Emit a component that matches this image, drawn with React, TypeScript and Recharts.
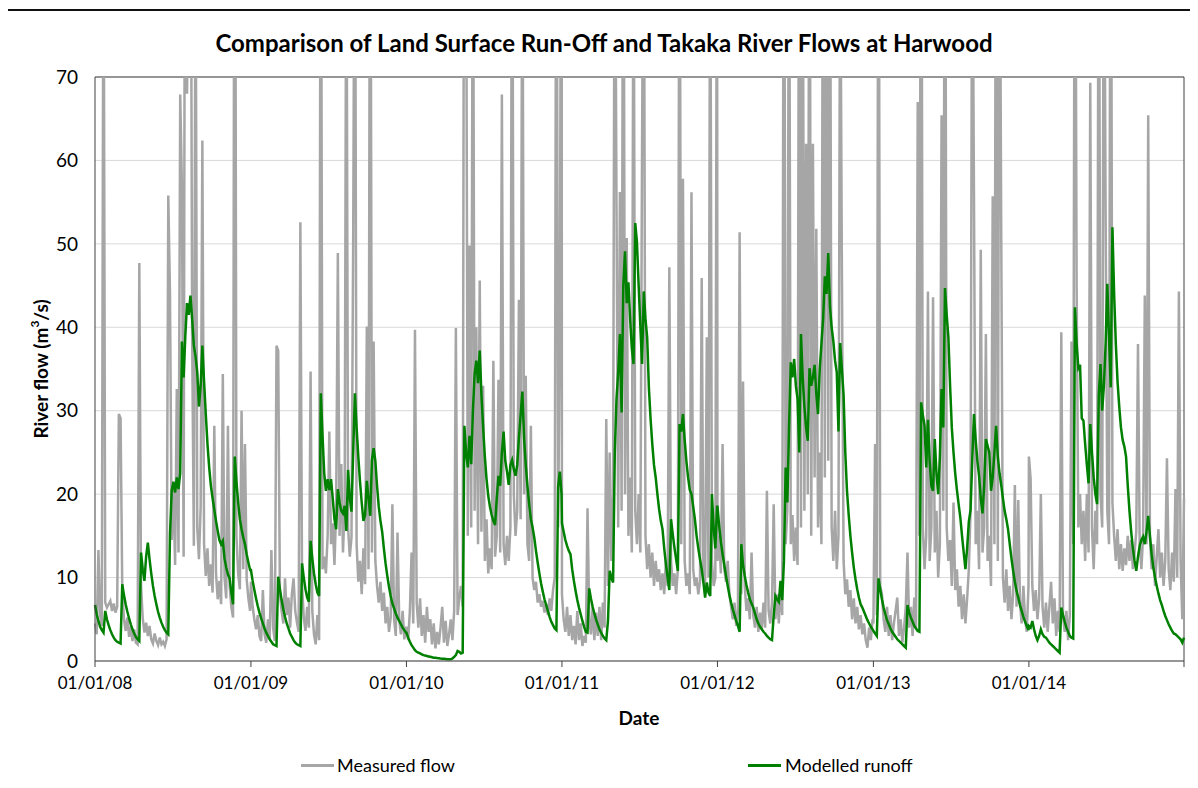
import { LineChart, Line, XAxis, YAxis, CartesianGrid, ReferenceLine } from 'recharts';

// start of each calendar year, in days from 01/01/08
const yearStarts = [0, 366, 731, 1096, 1461, 1827, 2192];
const tickLabels = ['01/01/08', '01/01/09', '01/01/10', '01/01/11', '01/01/12', '01/01/13', '01/01/14'];
const lastDay = 2556;
const sampleStep = 4; // days between readings

// measured flow (m3/s), one reading every 4 days from 1 January
const measured2008 = [
    4.5, 3.2, 13.3, 5.5, 4.2, 95, 7.0, 6.4, 6.8, 7.2,
    6.0, 6.9, 5.8, 6.5, 29.6, 29.1, 8.5, 5.0, 3.6, 5.2,
    2.9, 4.1, 2.4, 3.8, 2.2, 2.0, 47.7, 9.0, 5.1, 3.4,
    4.6, 3.0, 4.2, 2.6, 2.1, 3.3, 2.4, 1.9, 2.8, 2.0,
    2.3, 1.8, 2.6, 55.8, 44.0, 14.5, 21.0, 11.5, 32.6, 13.0,
    67.9, 56.9, 12.5, 120, 68.0, 85, 110, 39.0, 13.8, 90,
    16.0, 12.2, 18.5, 62.4, 14.0, 10.2, 13.5, 9.0, 11.6, 8.2,
    28.2, 10.5, 7.4, 9.6, 6.8, 34.4, 10.0, 7.5, 28.2, 9.0,
    6.5, 5.2, 130, 15.0, 10.5, 8.6, 30.0, 11.0, 26.0, 9.8,
    7.5, 6.0,
];
const measured2009 = [
    9.5, 6.5, 5.0, 3.8, 5.5, 3.0, 2.4, 8.5, 3.2, 2.2,
    5.0, 2.6, 13.3, 4.0, 2.4, 37.8, 37.2, 8.0, 6.0, 4.5,
    9.9, 5.5, 7.6, 4.0, 8.0, 9.9, 6.0, 4.6, 3.5, 52.6,
    9.0, 5.2, 3.6, 6.5, 4.0, 34.7, 6.0, 3.2, 2.0, 5.5,
    2.5, 110, 11.0, 12.5, 10.5, 15.0, 27.5, 14.0, 16.5, 11.5,
    18.0, 48.9, 15.0, 23.6, 13.0, 18.5, 95, 16.0, 12.5, 14.8,
    50.5, 105, 14.0, 9.5, 12.0, 8.0, 13.5, 9.2, 40.1, 11.0,
    115, 13.0, 38.3, 12.0, 9.0, 7.0, 9.5, 6.0, 8.2, 4.5,
    6.5, 3.5, 5.2, 18.8, 5.0, 3.0, 15.4, 5.0, 3.2, 6.0,
    2.6, 4.0,
];
const measured2010 = [
    4.0, 2.5, 6.0, 13.0, 4.5, 39.7, 7.0, 4.0, 7.5, 3.0,
    5.5, 2.2, 6.5, 3.5, 5.0, 2.0, 4.5, 1.5, 3.5, 2.0,
    4.0, 6.5, 2.2, 4.8, 1.8, 3.2, 5.0, 2.5, 6.0, 39.9,
    5.5, 7.5, 9.0, 6.5, 120, 90, 15.0, 49.8, 16.0, 100,
    18.0, 40.0, 14.0, 45.6, 15.5, 33.0, 12.0, 17.0, 10.5, 13.5,
    11.0, 36.0, 12.5, 15.0, 33.7, 13.0, 67.9, 14.0, 11.5, 15.0,
    12.0, 16.0, 105, 20.0, 15.0, 18.0, 43.3, 17.0, 95, 20.0,
    34.2, 14.0, 12.0, 28.2, 10.0, 8.5, 9.5, 7.0, 8.0, 6.5,
    7.2, 5.8, 6.8, 5.5, 7.5, 6.0, 8.5, 10.0, 110, 16.0,
    39.7, 120,
];
const measured2011 = [
    8.0, 5.0, 3.5, 6.5, 3.0, 5.5, 2.5, 4.2, 2.0, 6.0,
    2.5, 4.5, 1.8, 3.0, 2.2, 18.3, 5.0, 3.2, 6.5, 2.5,
    5.8, 3.0, 6.5, 2.5, 7.0, 4.0, 29.0, 9.0, 25.0, 12.0,
    20.0, 100, 54.8, 16.0, 56.2, 18.0, 110, 20.0, 50.7, 15.0,
    22.0, 13.0, 95, 18.0, 14.0, 20.0, 13.0, 61.5, 100, 15.0,
    11.0, 14.0, 10.0, 13.0, 9.0, 12.0, 9.5, 11.0, 8.5, 10.5,
    8.0, 12.0, 9.0, 47.2, 12.0, 9.0, 10.5, 8.0, 11.0, 105,
    14.0, 57.8, 12.0, 9.0, 10.5, 8.0, 56.2, 11.0, 9.0, 10.0,
    8.0, 9.5, 45.9, 10.0, 8.5, 38.8, 10.0, 95, 12.0, 9.0,
    10.0, 100,
];
const measured2012 = [
    12.0, 15.0, 10.5, 26.0, 11.0, 9.5, 12.0, 8.0, 6.5, 5.0,
    7.0, 4.2, 6.0, 51.4, 8.0, 33.5, 9.0, 6.0, 7.5, 5.0,
    13.0, 5.5, 4.0, 6.5, 3.5, 5.8, 3.8, 7.0, 4.0, 20.4,
    6.0, 4.5, 7.0, 18.8, 5.0, 8.0, 4.5, 9.0, 5.5, 115,
    14.0, 18.0, 100, 14.0, 17.5, 12.0, 16.0, 11.5, 110, 16.0,
    95, 18.0, 62.0, 20.0, 105, 15.0, 62.0, 22.0, 51.8, 16.0,
    25.0, 14.0, 110, 22.0, 120, 24.0, 100, 16.0, 12.0, 18.0,
    11.0, 15.0, 90, 47.2, 12.0, 8.0, 9.8, 6.5, 8.5, 5.0,
    7.5, 4.5, 6.5, 3.8, 5.5, 3.2, 4.5, 2.5, 1.6, 4.0,
    2.5, 5.0,
];
const measured2013 = [
    4.5, 26.0, 5.5, 110, 9.0, 8.0, 5.0, 3.5, 6.5, 3.0,
    5.5, 2.5, 4.5, 6.0, 7.6, 3.0, 5.0, 2.2, 4.0, 6.5,
    13.0, 4.0, 6.5, 3.0, 7.6, 4.0, 67.0, 15.0, 120, 16.0,
    11.0, 15.0, 44.3, 12.0, 16.0, 43.6, 13.0, 18.0, 10.0, 14.0,
    65.4, 18.0, 115, 16.0, 12.0, 14.5, 9.0, 19.0, 8.5, 11.0,
    6.5, 9.0, 5.0, 8.0, 4.5, 7.5, 11.0, 18.0, 95, 56.2,
    14.0, 18.0, 11.0, 49.3, 13.0, 16.0, 39.2, 12.0, 15.0, 9.0,
    55.7, 14.0, 110, 12.0, 100, 51.6, 10.0, 7.0, 11.0, 6.0,
    9.0, 5.0, 8.0, 21.1, 6.5, 19.3, 7.0, 4.5, 9.0, 5.0,
    3.5, 9.0,
];
const measured2014 = [
    24.5, 21.8, 9.0, 6.0, 8.5, 5.0, 7.5, 20.0, 6.5, 4.0,
    7.0, 3.5, 6.5, 9.5, 4.5, 7.5, 3.0, 6.0, 3.5, 39.4,
    5.5, 3.5, 6.0, 2.5, 5.5, 38.3, 14.0, 110, 44.7, 16.0,
    20.0, 14.0, 18.0, 12.0, 20.0, 13.0, 69.3, 16.0, 11.0, 18.0,
    14.0, 105, 20.0, 16.0, 100, 53.7, 18.0, 14.0, 115, 19.0,
    15.0, 12.0, 15.8, 11.0, 14.0, 10.8, 13.5, 11.5, 15.0, 12.0,
    14.5, 11.0, 13.0, 15.5, 38.0, 14.0, 11.0, 15.0, 43.8, 14.0,
    65.4, 15.0, 11.0, 14.0, 9.0, 12.5, 15.8, 10.0, 13.0, 9.0,
    12.0, 24.3, 11.0, 8.5, 13.0, 9.5, 20.6, 10.0, 44.3, 12.0,
    5.0, 19.5,
];

// modelled land surface runoff (m3/s), same dates
const modelled2008 = [
    6.7, 5.6, 4.8, 4.1, 3.7, 3.4, 6.0, 5.0, 4.3, 3.7,
    3.2, 2.8, 2.5, 2.3, 2.2, 2.1, 9.2, 7.9, 6.8, 5.9,
    5.1, 4.4, 3.8, 3.3, 2.9, 2.6, 2.4, 13.0, 11.0, 9.6,
    12.5, 14.2, 12.2, 10.5, 9.0, 7.8, 6.8, 5.9, 5.2, 4.6,
    4.1, 3.7, 3.4, 3.2, 15.1, 20.4, 21.5, 20.2, 22.0, 20.6,
    22.5, 38.3, 34.0, 39.0, 42.9, 41.5, 43.8, 41.0, 37.8, 36.5,
    34.6, 30.5, 33.0, 37.8, 33.5, 29.6, 26.0, 23.2, 21.0, 19.5,
    18.1, 16.8, 15.6, 14.5, 14.0, 14.4, 12.3, 11.2, 10.4, 9.9,
    8.2, 6.8, 24.5, 21.5, 19.0, 17.0, 15.8, 14.8, 14.0, 12.8,
    11.8, 10.9,
];
const modelled2009 = [
    10.9, 9.6, 8.5, 7.5, 6.6, 5.8, 5.1, 4.5, 3.9, 3.4,
    3.0, 2.6, 2.3, 2.0, 1.9, 1.8, 10.1, 8.6, 7.3, 6.2,
    5.3, 4.5, 3.9, 3.3, 2.9, 2.5, 2.2, 2.0, 1.9, 1.8,
    11.7, 10.0, 8.6, 7.6, 7.1, 14.4, 12.3, 10.5, 9.2, 8.2,
    7.8, 32.1, 27.0, 22.5, 20.4, 21.8, 20.5, 21.8, 19.5, 17.0,
    15.8, 20.6, 19.0, 18.0, 17.7, 18.6, 15.6, 22.9, 19.5, 17.9,
    25.0, 32.1, 28.0, 24.5, 21.5, 19.0, 16.8, 17.5, 21.6, 19.5,
    17.4, 24.1, 25.5, 24.0, 21.0, 18.5, 16.8, 15.5, 13.5, 11.7,
    10.2, 8.9, 7.8, 6.9, 6.3, 5.7, 5.2, 4.8, 4.4, 4.0,
    3.7, 3.4,
];
const modelled2010 = [
    3.4, 2.8, 2.3, 1.9, 1.6, 1.3, 1.1, 1.0, 0.9, 0.8,
    0.7, 0.65, 0.6, 0.55, 0.5, 0.45, 0.4, 0.38, 0.35, 0.33,
    0.3, 0.28, 0.26, 0.24, 0.22, 0.2, 0.2, 0.3, 0.5, 0.7,
    1.2, 1.1, 0.9, 1.0, 28.2, 25.0, 23.2, 27.0, 23.6, 30.0,
    34.4, 36.0, 33.3, 37.2, 31.9, 28.0, 24.5, 21.8, 19.8, 18.5,
    17.5, 16.8, 16.3, 19.5, 22.2, 21.0, 25.0, 27.5, 24.0, 22.7,
    21.1, 23.5, 24.1, 23.0, 22.2, 23.5, 26.8, 29.5, 32.3, 26.8,
    23.5, 21.0, 18.8, 17.0, 16.0, 14.8, 13.2, 11.8, 10.5, 9.3,
    8.3, 7.4, 6.7, 6.0, 5.3, 4.7, 4.3, 3.9, 3.7, 20.9,
    22.7, 20.0,
];
const modelled2011 = [
    16.5, 15.5, 14.5, 13.8, 13.2, 12.8, 11.0, 9.6, 8.4, 7.3,
    6.4, 5.6, 4.8, 4.1, 3.5, 3.4, 8.7, 7.5, 6.5, 5.7,
    5.0, 4.4, 3.8, 3.4, 3.0, 2.7, 2.5, 4.8, 10.8, 10.0,
    9.4, 25.0, 31.4, 34.6, 39.2, 29.8, 45.0, 49.1, 42.9, 45.4,
    41.0, 37.5, 35.6, 52.5, 50.2, 45.0, 40.1, 35.6, 44.3, 41.0,
    38.8, 32.8, 29.0, 26.0, 23.5, 22.0, 20.0, 18.2, 16.8, 15.8,
    13.5, 11.6, 10.0, 8.5, 17.0, 15.2, 13.6, 12.2, 10.8, 28.4,
    27.5, 29.6, 26.5, 24.0, 22.0, 20.5, 20.0, 18.5, 17.0, 15.0,
    13.5, 12.2, 11.0, 9.4, 7.6, 9.4, 8.2, 7.8, 20.0, 16.0,
    13.5, 18.5,
];
const modelled2012 = [
    18.5, 16.2, 14.3, 12.8, 11.5, 10.2, 9.0, 7.9, 7.0, 6.2,
    5.5, 4.8, 4.2, 3.5, 14.0, 11.5, 10.2, 9.1, 8.2, 7.4,
    6.9, 6.4, 5.7, 5.0, 4.5, 4.1, 3.8, 3.5, 3.3, 3.0,
    2.8, 2.6, 2.5, 5.5, 7.8, 7.4, 7.1, 9.6, 7.3, 12.0,
    23.2, 19.0, 28.0, 35.8, 34.0, 36.2, 33.0, 31.4, 25.0, 39.2,
    34.0, 30.5, 28.0, 26.4, 35.1, 33.0, 34.0, 35.5, 32.0, 29.6,
    35.0, 38.0, 41.0, 46.1, 44.0, 48.9, 42.5, 40.0, 38.3, 36.0,
    34.6, 27.5, 38.1, 35.0, 31.9, 25.0, 20.4, 17.5, 15.0, 13.0,
    11.2, 9.8, 8.6, 7.6, 6.8, 6.4, 5.9, 5.4, 4.9, 4.5,
    4.1, 3.8,
];
const modelled2013 = [
    3.6, 3.3, 3.0, 9.9, 8.6, 7.4, 6.4, 5.6, 4.9, 4.4,
    3.9, 3.5, 3.2, 2.9, 2.6, 2.4, 2.2, 2.0, 1.8, 1.6,
    6.7, 5.8, 5.2, 4.7, 4.2, 3.9, 3.6, 3.5, 31.0, 29.5,
    28.2, 23.2, 28.9, 24.0, 21.0, 20.4, 26.6, 22.5, 20.0, 24.5,
    32.6, 28.0, 44.7, 41.5, 38.8, 33.0, 28.0, 25.0, 22.5, 20.5,
    18.8, 17.2, 15.0, 13.0, 11.0, 13.5, 16.7, 18.1, 24.0, 29.6,
    26.5, 24.0, 22.2, 19.5, 17.7, 21.0, 26.6, 25.8, 25.0, 20.4,
    22.0, 25.0, 28.2, 24.5, 22.5, 21.1, 19.5, 18.0, 17.0, 15.8,
    14.0, 12.3, 10.8, 9.5, 8.4, 7.6, 6.7, 6.0, 5.3, 4.7,
    4.2, 3.7,
];
const modelled2014 = [
    4.2, 4.0, 4.8, 3.8, 3.0, 2.5, 3.0, 3.8, 3.2, 2.9,
    2.8, 2.5, 2.2, 2.0, 1.8, 1.6, 1.4, 1.2, 1.0, 6.4,
    5.5, 4.7, 4.0, 3.5, 3.0, 2.8, 2.7, 42.4, 38.0, 35.1,
    35.5, 29.1, 28.8, 26.0, 23.5, 21.3, 28.4, 25.0, 22.0, 20.0,
    18.8, 31.9, 35.6, 30.0, 33.0, 38.0, 45.2, 38.8, 32.8, 52.0,
    44.0, 38.0, 33.5, 30.5, 28.0, 26.5, 25.7, 24.5, 21.0, 18.0,
    15.5, 13.5, 12.0, 10.8, 12.5, 13.8, 14.5, 14.9, 14.0, 15.5,
    17.4, 15.0, 12.8, 11.2, 10.0, 9.0, 8.1, 7.3, 6.7, 6.0,
    5.4, 4.9, 4.4, 4.0, 3.6, 3.3, 3.2, 3.0, 2.8, 2.6,
    2.2, 2.8,
];

const measuredByYear = [measured2008, measured2009, measured2010, measured2011, measured2012, measured2013, measured2014];
const modelledByYear = [modelled2008, modelled2009, modelled2010, modelled2011, modelled2012, modelled2013, modelled2014];

const data = yearStarts.flatMap((start, y) =>
    measuredByYear[y].map((m, k) => ({
        day: start + k * sampleStep,
        measured: m,
        modelled: modelledByYear[y][k],
    }))
);

const yTicks = [0, 10, 20, 30, 40, 50, 60, 70];
const xTicks = [...yearStarts, lastDay];

const axisColor = '#404040';
const font = 'Lato, "Noto Sans", sans-serif';

const formatDate = (v: number) => {
    const i = yearStarts.indexOf(v);
    return i >= 0 ? tickLabels[i] : '';
};

const App = () => {
    return (
        <div
            style={{
                position: 'relative',
                left: -2,
                top: 1,
                width: 1196,
                height: 790,
                border: '2px solid #111',
                boxSizing: 'border-box',
                background: '#fff',
                fontFamily: font,
                color: '#000',
            }}
        >
            <div style={{ position: 'absolute', top: 18, left: 0, width: '100%', textAlign: 'center', fontWeight: 700, fontSize: 24, lineHeight: '28px' }}>
                Comparison of Land Surface Run-Off and Takaka River Flows at Harwood
            </div>

            <div style={{ position: 'absolute', top: 0, left: 0 }}>
                <LineChart width={1190} height={700} data={data} margin={{ top: 66, right: 14, left: 0, bottom: 20 }}>
                    <CartesianGrid vertical={false} stroke="#d9d9d9" />
                    <XAxis
                        dataKey="day"
                        type="number"
                        domain={[0, lastDay]}
                        ticks={xTicks}
                        interval={0}
                        tickFormatter={formatDate}
                        height={30}
                        stroke={axisColor}
                        tickSize={6}
                        tickMargin={10}
                        tick={{ fill: '#000', fontSize: 17, fontFamily: font }}
                    />
                    <YAxis
                        domain={[0, 70]}
                        ticks={yTicks}
                        allowDataOverflow
                        width={87}
                        stroke={axisColor}
                        tickLine={false}
                        tickSize={0}
                        tickMargin={17}
                        tick={{ fill: '#000', fontSize: 19, fontFamily: font }}
                    />
                    <ReferenceLine y={70} stroke={axisColor} />
                    <ReferenceLine x={lastDay} stroke={axisColor} />
                    <Line
                        type="linear"
                        dataKey="measured"
                        stroke="#a6a6a6"
                        strokeWidth={2.5}
                        dot={false}
                        isAnimationActive={false}
                    />
                    <Line
                        type="linear"
                        dataKey="modelled"
                        stroke="#008000"
                        strokeWidth={2.5}
                        dot={false}
                        isAnimationActive={false}
                    />
                </LineChart>
            </div>

            <div
                style={{
                    position: 'absolute',
                    left: 32,
                    top: 358,
                    transform: 'translate(-50%, -50%) rotate(-90deg)',
                    whiteSpace: 'nowrap',
                    fontWeight: 700,
                    fontSize: 19,
                }}
            >
                River flow (m<sup style={{ fontSize: 12, verticalAlign: 'top', lineHeight: 1 }}>3</sup>/s)
            </div>

            <div style={{ position: 'absolute', left: 631, top: 706, transform: 'translate(-50%, -50%)', fontWeight: 700, fontSize: 19 }}>
                Date
            </div>

            <div style={{ position: 'absolute', left: 0, top: 754, width: '100%', height: 0, fontSize: 18 }}>
                <div style={{ position: 'absolute', left: 293, top: -1, width: 33, height: 2.5, background: '#a6a6a6' }} />
                <div style={{ position: 'absolute', left: 329, top: -12, lineHeight: '24px', whiteSpace: 'nowrap' }}>Measured flow</div>
                <div style={{ position: 'absolute', left: 740, top: -1, width: 33, height: 2.5, background: '#008000' }} />
                <div style={{ position: 'absolute', left: 777, top: -12, lineHeight: '24px', whiteSpace: 'nowrap' }}>Modelled runoff</div>
            </div>
        </div>
    );
};

export default App;
